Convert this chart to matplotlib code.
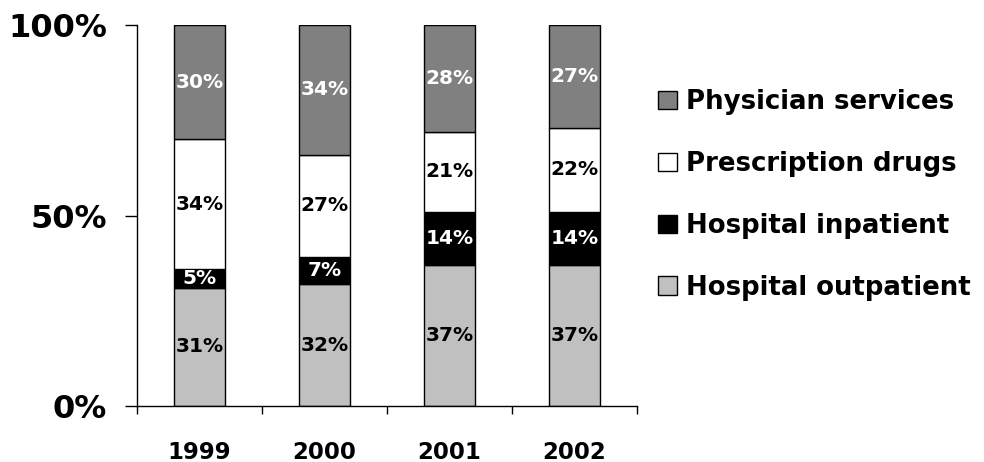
"""
Share of spending growth by service type, 1999-2002 (100% stacked bars).
"""

import matplotlib.pyplot as plt
import numpy as np

years = ['1999', '2000', '2001', '2002']
outpatient = [31, 32, 37, 37]
inpatient = [5, 7, 14, 14]
drugs = [34, 27, 21, 22]
physician = [30, 34, 28, 27]

series = [
    ('Hospital outpatient', outpatient, '#c0c0c0', 'black'),
    ('Hospital inpatient', inpatient, 'black', 'white'),
    ('Prescription drugs', drugs, 'white', 'black'),
    ('Physician services', physician, '#808080', 'white'),
]

plt.rcParams['font.family'] = 'DejaVu Sans'
plt.rcParams['font.weight'] = 'bold'

fig = plt.figure(figsize=(9.84, 4.62), dpi=100)
ax = fig.add_axes([137 / 984, 56 / 462, 500 / 984, 381 / 462])

x = np.arange(len(years))
bottom = np.zeros(len(years))
handles = []
for name, vals, color, txtcolor in series:
    vals = np.array(vals, dtype=float)
    bars = ax.bar(x, vals, 0.41, bottom=bottom, color=color,
                  edgecolor='black', linewidth=1, label=name)
    handles.append(bars)
    for xi, b, v in zip(x, bottom, vals):
        ax.text(xi, b + v / 2, '{:.0f}%'.format(v), ha='center', va='center',
                color=txtcolor, fontsize=14.5, fontweight='bold')
    bottom += vals

ax.set_xlim(-0.5, 3.5)
ax.set_ylim(0, 100)
ax.set_yticks([0, 50, 100])
ax.set_yticklabels(['0%', '50%', '100%'], fontsize=23, fontweight='bold')
ax.set_xticks(x)
ax.set_xticklabels(years, fontsize=16.5, fontweight='bold')
ax.set_xticks(np.arange(-0.5, 4, 1), minor=True)
ax.tick_params(axis='x', which='major', length=0, pad=25)
ax.tick_params(axis='x', which='minor', length=6, width=1, direction='out')
ax.tick_params(axis='y', length=9, width=1, direction='out', pad=12.5)
for s in ['top', 'right']:
    ax.spines[s].set_visible(False)
for s in ['left', 'bottom']:
    ax.spines[s].set_linewidth(1)

leg = fig.legend(handles[::-1], [s[0] for s in series][::-1],
                 loc='center left', bbox_to_anchor=(658 / 984, 0.578),
                 frameon=False, prop={'weight': 'bold', 'size': 18.7},
                 handlelength=0.72, handleheight=0.72, handletextpad=0.36,
                 labelspacing=1.38, borderaxespad=0, borderpad=0)

fig.savefig('out.png', dpi=100)
